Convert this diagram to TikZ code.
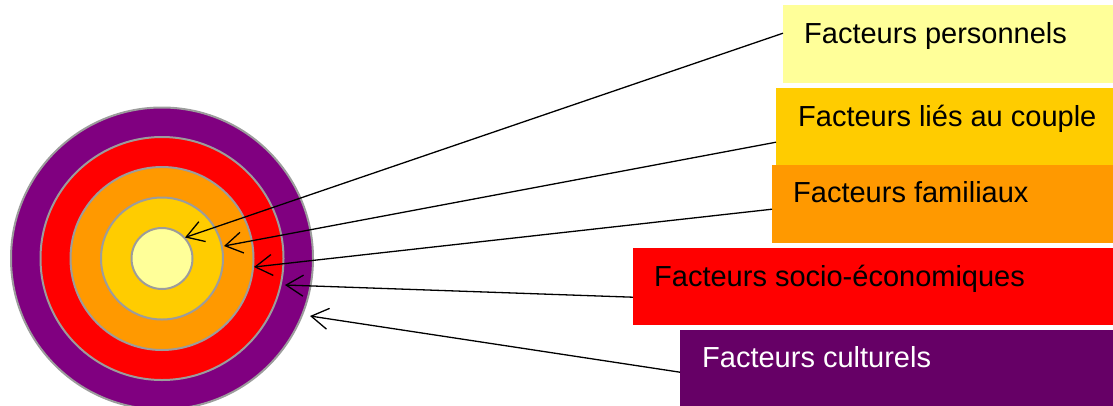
\documentclass[tikz,border=0pt]{standalone}
\usepackage{fontspec}
\setmainfont{Liberation Sans}
\usetikzlibrary{arrows.meta,calc}

\definecolor{paleyellow}{HTML}{FFFF99}
\definecolor{gold}{HTML}{FFCC00}
\definecolor{amber}{HTML}{FF9900}
\definecolor{pureRed}{HTML}{FF0000}
\definecolor{ringPurple}{HTML}{800080}
\definecolor{boxPurple}{HTML}{660066}
\definecolor{ringEdge}{HTML}{9C9C9C}

\tikzset{
  ring/.style={circle, draw=ringEdge, line width=2pt, inner sep=0pt, minimum size=#1},
  factorbox/.style={rectangle, inner sep=0pt, anchor=north west},
  factorlabel/.style={anchor=base west, inner sep=0pt, font=\fontsize{29}{34}\selectfont},
  pointer/.style={-{Straight Barb[length=17pt,width=21pt,line width=1.3pt]}, line width=1.3pt, black},
}

\begin{document}
\begin{tikzpicture}[x=1pt,y=-1pt]
  \useasboundingbox (0,0) rectangle (1113,405);

  % concentric rings, outermost first
  \node[ring=302pt, fill=ringPurple] (rCult) at (162,258.5) {};
  \node[ring=243pt, fill=pureRed]    (rSoc)  at (162,258.5) {};
  \node[ring=183pt, fill=amber]      (rFam)  at (162,258.5) {};
  \node[ring=122pt, fill=gold]       (rCoup) at (162,258.5) {};
  \node[ring=61pt,  fill=paleyellow] (rPers) at (162,258.5) {};

  % coloured factor boxes
  \node[factorbox, fill=paleyellow, minimum width=330pt, minimum height=78pt] (bPers) at (783,5) {};
  \node[factorbox, fill=gold,       minimum width=337pt, minimum height=77pt] (bCoup) at (776,88) {};
  \node[factorbox, fill=amber,      minimum width=341pt, minimum height=78pt] (bFam)  at (772,165) {};
  \node[factorbox, fill=pureRed,    minimum width=480pt, minimum height=77pt] (bSoc)  at (633,247.5) {};
  \node[factorbox, fill=boxPurple,  minimum width=433pt, minimum height=76pt] (bCult) at (680,330) {};

  % box texts
  \node[factorlabel] (tPers) at (804,43)  {Facteurs personnels};
  \node[factorlabel] (tCoup) at (798,126) {Facteurs liés au couple};
  \node[factorlabel] (tFam)  at (793,202.5) {Facteurs familiaux};
  \node[factorlabel] (tSoc)  at (654,286) {Facteurs socio-économiques};
  \node[factorlabel, text=white] (tCult) at (702,367) {Facteurs culturels};

  % arrow tips on the rings
  \coordinate (aPers) at (185,237.5);
  \coordinate (aCoup) at (224,246);
  \coordinate (aFam)  at (254,267);
  \coordinate (aSoc)  at (285,285);
  \coordinate (aCult) at (310,316);

  % pointers from each box to its ring
  \draw[pointer] ($(bPers.west)+(0,-11)$)  -- (aPers);
  \draw[pointer] ($(bCoup.west)+(0,15.5)$) -- (aCoup);
  \draw[pointer] ($(bFam.west)+(0,5)$)     -- (aFam);
  \draw[pointer] ($(bSoc.west)+(0,11)$)    -- (aSoc);
  \draw[pointer] ($(bCult.west)+(0,4)$)    -- (aCult);
\end{tikzpicture}
\end{document}
